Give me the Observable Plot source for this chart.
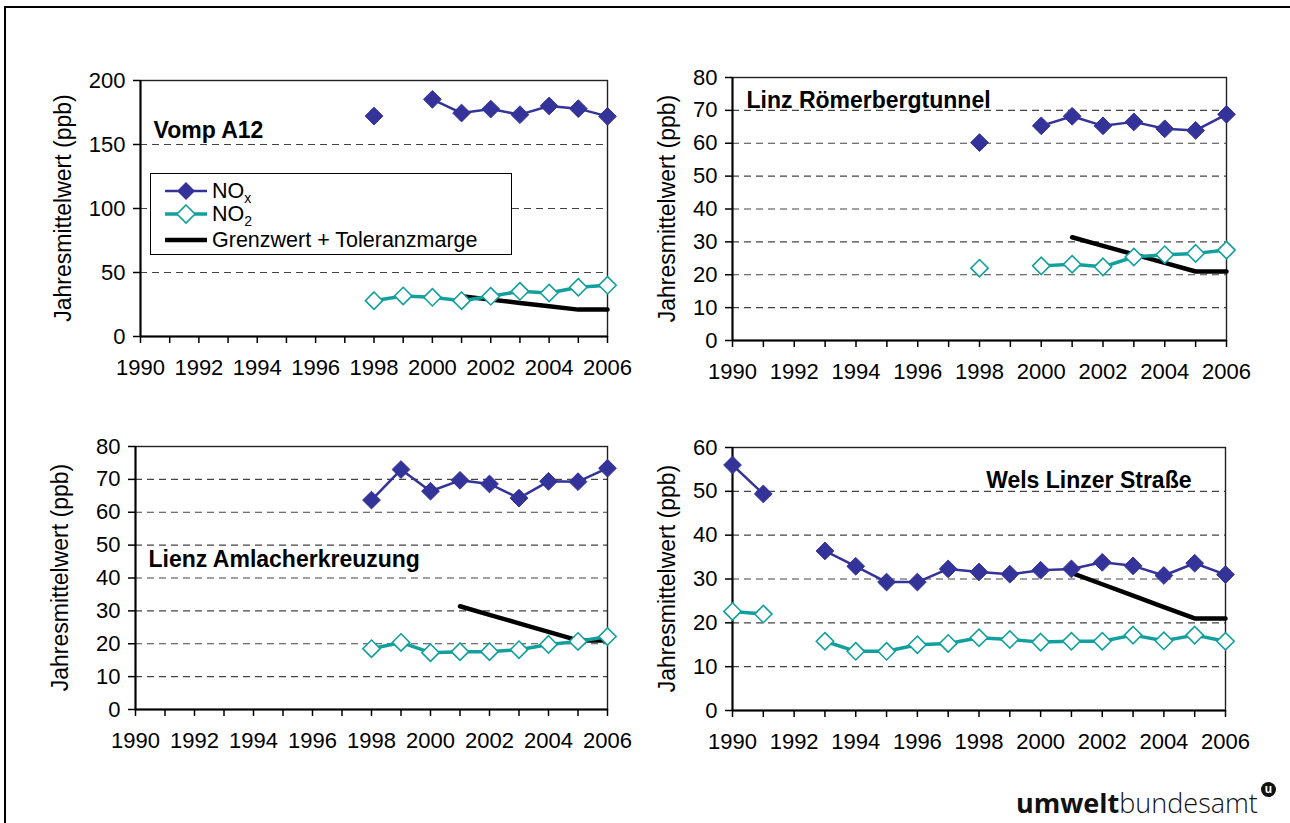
<!DOCTYPE html>
<html><head><meta charset="utf-8">
<script src="https://cdn.jsdelivr.net/npm/d3@7"></script>
<script src="https://cdn.jsdelivr.net/npm/@observablehq/plot@0.6"></script>
<style>
body{margin:0;background:#fff;}
#wrap{position:relative;width:1290px;height:823px;overflow:hidden;font-family:"Liberation Sans",Arial,sans-serif;background:#fff;}
#wrap svg.layer{position:absolute;left:0;top:0;}
#border{position:absolute;left:4px;top:6px;width:1400px;height:900px;border-left:2.5px solid #000;border-top:2.5px solid #000;}
#legend{position:absolute;left:150px;top:173px;width:362px;height:82px;border:1.5px solid #000;background:#fff;box-sizing:border-box;}
#legend .row{position:absolute;left:0;height:24px;width:100%;}
#legend svg{position:absolute;left:12px;top:0;}
#legend .lbl{position:absolute;left:61px;top:0;font-size:21.5px;line-height:24px;color:#000;}
#legend sub{font-size:14px;vertical-align:-5px;line-height:0;}
#logo{position:absolute;left:1016px;top:788px;font-family:"Open Sans","Noto Sans",sans-serif;font-size:27px;line-height:30px;color:#111;white-space:nowrap;}
#logo b{font-weight:700;}
#logo span{font-weight:300;}
#logomark{position:absolute;left:1261px;top:782px;width:15px;height:15px;border-radius:50%;background:#111;color:#fff;font:bold 12px "Liberation Sans",Arial,sans-serif;text-align:center;line-height:14px;}
</style></head><body>
<div id="wrap"><div id="border"></div></div>
<script>
const years = [1990,1991,1992,1993,1994,1995,1996,1997,1998,1999,2000,2001,2002,2003,2004,2005,2006];
const grenzwert = [null,null,null,null,null,null,null,null,null,null,null,31.4,28.8,26.2,23.6,21.0,21.0];

const vompNOx = [null,null,null,null,null,null,null,null,172.2,null,185.3,174.6,177.7,173.3,180.1,178.0,172.0];
const vompNO2 = [null,null,null,null,null,null,null,null,28.0,31.7,30.6,28.0,31.4,35.3,34.0,38.5,40.0];

const linzNOx = [null,null,null,null,null,null,null,null,60.2,null,65.3,68.2,65.3,66.5,64.4,63.9,68.8];
const linzNO2 = [null,null,null,null,null,null,null,null,22.0,null,22.7,23.2,22.4,25.4,26.1,26.5,27.5];

const lienzNOx = [null,null,null,null,null,null,null,null,63.7,73.0,66.4,69.7,68.6,64.3,69.4,69.3,73.4];
const lienzNO2 = [null,null,null,null,null,null,null,null,18.5,20.4,17.3,17.6,17.6,18.2,19.8,20.7,22.2];

const welsNOx = [56.0,49.4,null,36.4,32.9,29.3,29.3,32.3,31.6,31.1,32.0,32.3,33.8,33.0,30.8,33.6,31.0];
const welsNO2 = [22.6,22.0,null,15.8,13.5,13.5,15.0,15.3,16.6,16.2,15.6,15.8,15.8,17.2,15.9,17.2,15.8];

const titles = ["Vomp A12","Linz Römerbergtunnel","Lienz Amlacherkreuzung","Wels Linzer Straße"];
const yLabel = "Jahresmittelwert (ppb)";
const legendLabels = ["NO<sub>x</sub>","NO<sub>2</sub>","Grenzwert + Toleranzmarge"];

const navy = "#333399", teal = "#12a09d";
const W = 1290, H = 823;

const panels = [
  {title:titles[0], nox:vompNOx, no2:vompNO2, ymax:200, yticks:[0,50,100,150,200], grid:[50,100,150],
   left:140, right:607, top:80, bottom:336, labelX:63, fa:"top-left", ta:"start", tdx:13, tdy:57},
  {title:titles[1], nox:linzNOx, no2:linzNO2, ymax:80, yticks:[0,10,20,30,40,50,60,70,80], grid:[10,20,30,40,50,60,70],
   left:732, right:1226, top:77, bottom:340, labelX:667, fa:"top-left", ta:"start", tdx:14, tdy:30},
  {title:titles[2], nox:lienzNOx, no2:lienzNO2, ymax:80, yticks:[0,10,20,30,40,50,60,70,80], grid:[10,20,30,40,50,60,70],
   left:135, right:607, top:446, bottom:709, labelX:60, fa:"top-left", ta:"start", tdx:13, tdy:120},
  {title:titles[3], nox:welsNOx, no2:welsNO2, ymax:60, yticks:[0,10,20,30,40,50,60], grid:[10,20,30,40,50],
   left:732, right:1225, top:447, bottom:710, labelX:667, fa:"top-right", ta:"end", tdx:-34, tdy:40}
];

const wrap = document.getElementById("wrap");

for (const p of panels) {
  const rows = years.map((yr, i) => ({year: yr, nox: p.nox[i], no2: p.no2[i], gw: grenzwert[i]}));
  const svg = Plot.plot({
    width: W, height: H,
    marginLeft: p.left, marginRight: W - p.right, marginTop: p.top, marginBottom: H - p.bottom,
    style: {background: "transparent", fontFamily: "Liberation Sans, Arial, sans-serif", fontSize: "22px", color: "#000", overflow: "visible"},
    x: {domain: [1990, 2006]},
    y: {domain: [0, p.ymax]},
    marks: [
      Plot.gridY(p.grid, {stroke: "#444", strokeOpacity: 1, strokeWidth: 1.2, strokeDasharray: "7,5"}),
      Plot.frame({stroke: "#222", strokeWidth: 1.4}),
      Plot.axisX({ticks: years, tickFormat: d => (d % 2 === 0 ? String(d) : ""), tickSize: 7, tickPadding: 16, strokeWidth: 1.5, label: null, fontSize: 22}),
      Plot.axisY({ticks: p.yticks, tickSize: 7, tickPadding: 8, strokeWidth: 1.5, label: null, fontSize: 22}),
      Plot.ruleX([1990], {stroke: "#000", strokeWidth: 2}),
      Plot.ruleY([0], {stroke: "#000", strokeWidth: 2}),
      Plot.line(rows, {x: "year", y: "gw", stroke: "#000", strokeWidth: 4.5}),
      Plot.line(rows, {x: "year", y: "no2", stroke: teal, strokeWidth: 3.5}),
      Plot.dot(rows, {x: "year", y: "no2", symbol: "diamond2", r: 7.8, fill: "#fff", stroke: teal, strokeWidth: 1.6}),
      Plot.line(rows, {x: "year", y: "nox", stroke: navy, strokeWidth: 2.5}),
      Plot.dot(rows, {x: "year", y: "nox", symbol: "diamond2", r: 8, fill: navy, stroke: navy, strokeWidth: 1}),
      Plot.text([p.title], {text: d => d, frameAnchor: p.fa, textAnchor: p.ta, lineAnchor: "bottom", dx: p.tdx, dy: p.tdy, fontWeight: "bold", fontSize: 23, fill: "#000"})
    ]
  });
  svg.classList.add("layer");
  d3.select(svg).append("text")
    .attr("transform", `translate(${p.labelX},${(p.top + p.bottom) / 2}) rotate(-90)`)
    .attr("text-anchor", "middle").attr("dy", "0.35em")
    .attr("font-size", 23).attr("fill", "#000")
    .text(yLabel);
  wrap.appendChild(svg);
}

// legend (first panel)
const legend = document.createElement("div");
legend.id = "legend";
const rowTops = [5, 28, 54];
legendLabels.forEach((lab, i) => {
  const row = document.createElement("div");
  row.className = "row";
  row.style.top = rowTops[i] + "px";
  let sw;
  if (i === 0) sw = `<svg width="46" height="24"><line x1="2" x2="44" y1="12" y2="12" stroke="${navy}" stroke-width="2.5"/><path d="M23,3L32,12L23,21L14,12Z" fill="${navy}"/></svg>`;
  else if (i === 1) sw = `<svg width="46" height="24"><line x1="2" x2="44" y1="12" y2="12" stroke="${teal}" stroke-width="3.5"/><path d="M23,3L32,12L23,21L14,12Z" fill="#fff" stroke="${teal}" stroke-width="1.6"/></svg>`;
  else sw = `<svg width="46" height="24"><line x1="2" x2="44" y1="12" y2="12" stroke="#000" stroke-width="4.5"/></svg>`;
  row.innerHTML = sw + `<div class="lbl">${lab}</div>`;
  legend.appendChild(row);
});
wrap.appendChild(legend);

// logo
const logo = document.createElement("div");
logo.id = "logo";
logo.innerHTML = "<b>umwelt</b><span>bundesamt</span>";
wrap.appendChild(logo);
const mark = document.createElement("div");
mark.id = "logomark";
mark.textContent = "u";
wrap.appendChild(mark);
</script>
</body></html>
